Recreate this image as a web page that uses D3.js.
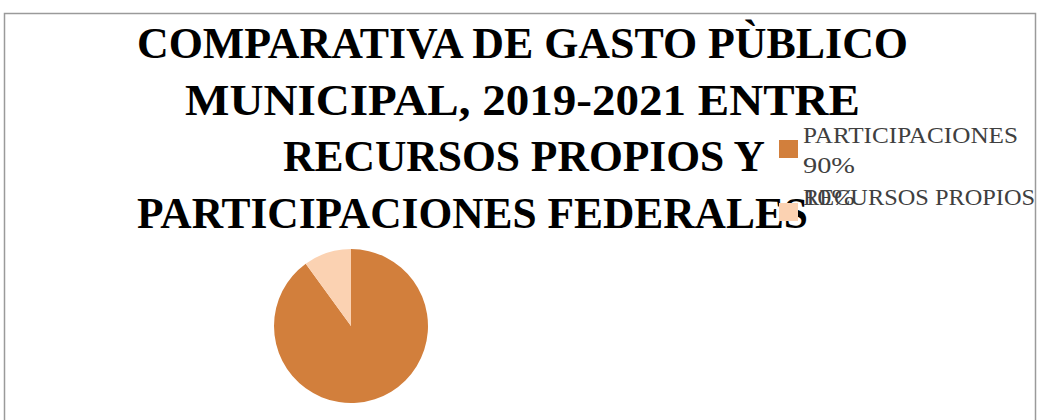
<!DOCTYPE html>
<html>
<head>
<meta charset="utf-8">
<script src="https://cdn.jsdelivr.net/npm/d3@7"></script>
<style>
  body { margin: 0; background: #fff; }
  svg { display: block; }
</style>
</head>
<body>
<div id="chart"></div>
<script>
// Data
var categories = ["PARTICIPACIONES", "RECURSOS PROPIOS"];
var shares = [90, 10];
var pctLabels = ["90%", "10%"];
var titleLines = [
    "COMPARATIVA DE GASTO PÙBLICO",
    "MUNICIPAL, 2019-2021 ENTRE",
    "RECURSOS PROPIOS Y",
    "PARTICIPACIONES FEDERALES"
];
var colors = ["#D27F3C", "#FBD2B2"];

// Set chart parameters
var svgWidth = 1039;
var svgHeight = 420;

var svg = d3.select("#chart")
    .append("svg")
    .attr("width", svgWidth)
    .attr("height", svgHeight);

// chart border
svg.append("rect")
    .attr("x", 4.5)
    .attr("y", 13.5)
    .attr("width", 1031)
    .attr("height", 420)
    .attr("fill", "#fff")
    .attr("stroke", "#9a9a9a")
    .attr("stroke-width", 1.5);

// title (each line placed as in the original)
var titleBox = [
    {x: 137, w: 771, y: 58},
    {x: 185, w: 675, y: 115},
    {x: 283, w: 482, y: 171},
    {x: 137, w: 671, y: 228}
];

svg.selectAll(".title")
    .data(titleLines)
    .enter()
    .append("text")
    .attr("class", "title")
    .attr("x", (d, i) => titleBox[i].x)
    .attr("y", (d, i) => titleBox[i].y)
    .attr("textLength", (d, i) => titleBox[i].w)
    .attr("lengthAdjust", "spacingAndGlyphs")
    .attr("font-family", "'Liberation Serif', 'DejaVu Serif', serif")
    .attr("font-weight", "bold")
    .attr("font-size", "45px")
    .attr("fill", "#000")
    .text(d => d);

// pie
var radius = 77;
var pieGroup = svg.append("g")
    .attr("transform", "translate(351, 326)");

var pie = d3.pie().sort(null);
var arc = d3.arc().innerRadius(0).outerRadius(radius);

pieGroup.selectAll("path")
    .data(pie(shares))
    .enter()
    .append("path")
    .attr("d", arc)
    .attr("fill", (d, i) => colors[i]);

// legend
var legendY = d3.scaleBand()
    .domain(categories)
    .range([140, 266]);

var legend = svg.selectAll(".legend")
    .data(categories)
    .enter()
    .append("g")
    .attr("class", "legend")
    .attr("transform", d => `translate(779, ${legendY(d)})`);

legend.append("rect")
    .attr("width", 19)
    .attr("height", 18)
    .attr("fill", (d, i) => colors[i]);

// legend labels: name then percent on next line (second entry overlaps, as in original)
var nameWidth = [215, 232];

legend.append("text")
    .attr("x", 24)
    .attr("y", (d, i) => i === 0 ? 3 : 2)
    .attr("textLength", (d, i) => nameWidth[i])
    .attr("lengthAdjust", "spacingAndGlyphs")
    .attr("font-family", "'Liberation Serif', serif")
    .attr("font-size", "23px")
    .attr("fill", "#404040")
    .text(d => d);

legend.append("text")
    .attr("x", 24)
    .attr("y", (d, i) => i === 0 ? 33 : 2)
    .attr("textLength", 52)
    .attr("lengthAdjust", "spacingAndGlyphs")
    .attr("font-family", "'Liberation Serif', serif")
    .attr("font-size", "23px")
    .attr("fill", "#404040")
    .text((d, i) => pctLabels[i]);
</script>
</body>
</html>
